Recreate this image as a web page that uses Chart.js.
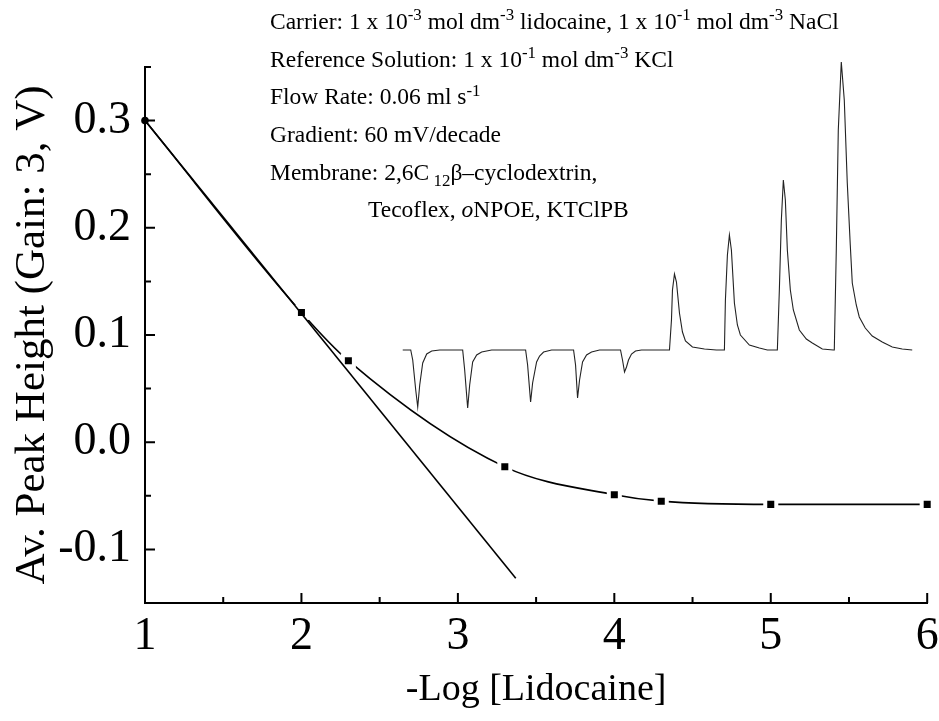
<!DOCTYPE html>
<html><head><meta charset="utf-8">
<script src="https://cdn.jsdelivr.net/npm/chart.js@4.4.1/dist/chart.umd.min.js"></script>
<style>html,body{margin:0;padding:0;background:#fff;} #wrap{width:939px;height:721px;position:relative;}</style>
</head><body><div id="wrap"><canvas id="c" width="939" height="721"></canvas></div>
<script>
// ---- data ----
const xTickValues = [1, 2, 3, 4, 5, 6];
const xTickLabels = ['1', '2', '3', '4', '5', '6'];
const xMinorTicks = [1.5, 2.5, 3.5, 4.5, 5.5];
const yTickValues = [-0.1, 0.0, 0.1, 0.2, 0.3];
const yTickLabels = ['-0.1', '0.0', '0.1', '0.2', '0.3'];
const yMinorTicks = [-0.05, 0.05, 0.15, 0.25, 0.35];

// -Log[Lidocaine] and average peak heights (V)
const logConc = [1, 2, 2.3, 3.3, 4, 4.3, 5, 6];
const peakHeight = [0.300, 0.121, 0.076, -0.023, -0.049, -0.055, -0.058, -0.058];

// Nernstian reference line (60 mV/decade, gain 3)
const nernstX = [1, 3.37];
const nernstY = [0.300, -0.127];

// inset FIA trace: time (s) and signal (arb. mV)
const traceTime = [0, 8, 10, 13, 15, 17, 20, 24, 29, 37,
  60, 62, 65, 67, 70, 74, 79, 89,
  123, 125, 128, 130, 134, 137, 141, 149,
  171, 173, 175, 177, 180, 184, 189, 197,
  218, 220, 222, 224, 226, 229, 233, 239,
  267, 269, 270, 272, 274, 277, 280, 283, 290, 302, 314,
  322, 323, 325, 327, 329, 332, 335, 338, 347, 357, 365,
  375, 377, 379, 381, 383, 385, 388, 391, 397, 404, 410, 420, 431,
  432, 434, 436, 439, 442, 445, 448, 450, 454, 457, 463, 470, 480, 490, 500, 510];
const traceSignal = [0, 0, -10, -40, -57, -35, -13, -4, -1, 0,
  0, -20, -58, -35, -12, -5, -2, 0,
  0, -15, -52, -33, -12, -6, -2, 0,
  0, -15, -48, -30, -12, -5, -2, 0,
  0, -10, -22, -17, -10, -4, -1, 0,
  0, 30, 60, 76, 68, 37, 18, 9, 3, 1, 0,
  0, 50, 95, 115, 100, 47, 25, 15, 5, 2, 0,
  0, 60, 130, 170, 150, 100, 60, 40, 20, 11, 7, 1, 0,
  0, 100, 220, 288, 250, 167, 105, 67, 45, 33, 22, 14, 8, 3, 1, 0];

// annotation text
const noteLines = [
  [{t: 'Carrier: 1 x 10'}, {t: '-3', sup: 1}, {t: ' mol dm'}, {t: '-3', sup: 1}, {t: ' lidocaine, 1 x 10'}, {t: '-1', sup: 1}, {t: ' mol dm'}, {t: '-3', sup: 1}, {t: ' NaCl'}],
  [{t: 'Reference Solution: 1 x 10'}, {t: '-1', sup: 1}, {t: ' mol dm'}, {t: '-3', sup: 1}, {t: ' KCl'}],
  [{t: 'Flow Rate: 0.06 ml s'}, {t: '-1', sup: 1}],
  [{t: 'Gradient: 60 mV/decade'}],
  [{t: 'Membrane: 2,6C'}, {t: ' 12', sub: 1}, {t: 'β–cyclodextrin,'}],
  [{t: 'Tecoflex, '}, {t: 'o', it: 1}, {t: 'NPOE, KTClPB'}]
];

// ---- build ----
const curvePts = logConc.map((x, i) => ({x, y: peakHeight[i]}));
const nernstPts = nernstX.map((x, i) => ({x, y: nernstY[i]}));
const tracePts = traceTime.map((x, i) => ({x, y: traceSignal[i]}));

const FONT = "'Liberation Serif', 'Times New Roman', serif";

const noteLayout = {x: 270, indentX: 368, y0: 23, dy: 37.6, size: 23.5, subScale: 0.72};

const notesPlugin = {
  id: 'notes',
  afterDraw(chart) {
    const ctx = chart.ctx;
    ctx.save();
    ctx.fillStyle = '#000';
    ctx.textBaseline = 'middle';
    ctx.textAlign = 'left';
    const L = noteLayout;
    noteLines.forEach((segs, li) => {
      let x = li === 5 ? L.indentX : L.x;
      const y = L.y0 + li * L.dy;
      segs.forEach(s => {
        let size = L.size, dyy = 0, style = '';
        if (s.sup) { size = L.size * L.subScale; dyy = -7; }
        if (s.sub) { size = L.size * L.subScale; dyy = 8; }
        if (s.it) style = 'italic ';
        ctx.font = style + size + 'px ' + FONT;
        ctx.fillText(s.t, x, y + dyy);
        x += ctx.measureText(s.t).width;
      });
    });
    ctx.restore();
  }
};

const ticksPlugin = {
  id: 'inTicks',
  afterDraw(chart) {
    const ctx = chart.ctx;
    const xs = chart.scales.x, ys = chart.scales.y;
    const a = chart.chartArea;
    ctx.save();
    ctx.strokeStyle = '#000';
    ctx.lineWidth = 2;
    ctx.beginPath();
    xTickValues.forEach(v => { const p = xs.getPixelForValue(v); ctx.moveTo(p, a.bottom); ctx.lineTo(p, a.bottom - 10); });
    xMinorTicks.forEach(v => { const p = xs.getPixelForValue(v); ctx.moveTo(p, a.bottom); ctx.lineTo(p, a.bottom - 6); });
    yTickValues.forEach(v => { const p = ys.getPixelForValue(v); ctx.moveTo(a.left, p); ctx.lineTo(a.left + 10, p); });
    yMinorTicks.forEach(v => { const p = ys.getPixelForValue(v); ctx.moveTo(a.left, p); ctx.lineTo(a.left + 6, p); });
    ctx.stroke();
    ctx.restore();
  }
};

new Chart(document.getElementById('c'), {
  type: 'scatter',
  data: {
    datasets: [
      {
        data: nernstPts, showLine: true, borderColor: '#000', borderWidth: 1.6,
        pointRadius: 0, xAxisID: 'x', yAxisID: 'y', clip: false
      },
      {
        data: curvePts, showLine: true, borderColor: '#000', borderWidth: 1.6,
        cubicInterpolationMode: 'monotone',
        pointStyle: curvePts.map((p, i) => i === 0 ? 'circle' : 'rect'),
        pointRadius: curvePts.map((p, i) => i === 0 ? 3.8 : 7.8),
        pointBackgroundColor: '#000',
        pointBorderColor: '#fff',
        pointBorderWidth: curvePts.map((p, i) => i === 0 ? 0 : 4),
        xAxisID: 'x', yAxisID: 'y', clip: false
      },
      {
        data: tracePts, showLine: true, borderColor: '#222', borderWidth: 1.1,
        pointRadius: 0, xAxisID: 'xt', yAxisID: 'yt', clip: false
      }
    ]
  },
  options: {
    responsive: false,
    animation: false,
    devicePixelRatio: 1,
    layout: {padding: {left: 0, right: 11, top: 67, bottom: 0}},
    plugins: {legend: {display: false}, tooltip: {enabled: false}},
    scales: {
      x: {
        type: 'linear', position: 'bottom', min: 1, max: 6,
        afterBuildTicks: s => { s.ticks = xTickValues.map(v => ({value: v})); },
        afterFit: s => { s.height = 118; s.paddingLeft = 0; s.paddingRight = 0; },
        grid: {display: false, drawTicks: false},
        border: {display: true, color: '#000', width: 2},
        ticks: {autoSkip: false, maxRotation: 0, padding: 6, color: '#000',
          font: {family: FONT, size: 46},
          callback: (v, i) => xTickLabels[i]},
        title: {display: true, text: '-Log [Lidocaine]', color: '#000',
          font: {family: FONT, size: 38}, padding: {top: 0, bottom: 8}}
      },
      y: {
        type: 'linear', position: 'left', min: -0.15, max: 0.35,
        afterBuildTicks: s => { s.ticks = yTickValues.map(v => ({value: v})); },
        afterFit: s => { s.width = 145; s.paddingTop = 0; s.paddingBottom = 0; },
        grid: {display: false, drawTicks: false},
        border: {display: true, color: '#000', width: 2},
        ticks: {autoSkip: false, padding: 14, color: '#000',
          font: {family: FONT, size: 46},
          callback: (v, i) => yTickLabels[i]},
        title: {display: true, text: 'Av. Peak Height (Gain: 3, V)', color: '#000',
          font: {family: FONT, size: 43}, padding: {top: 7, bottom: 0}}
      },
      xt: {type: 'linear', display: false, min: -258, max: 525},
      yt: {type: 'linear', display: false, min: -253, max: 283}
    }
  },
  plugins: [notesPlugin, ticksPlugin]
});
</script>
</body></html>
